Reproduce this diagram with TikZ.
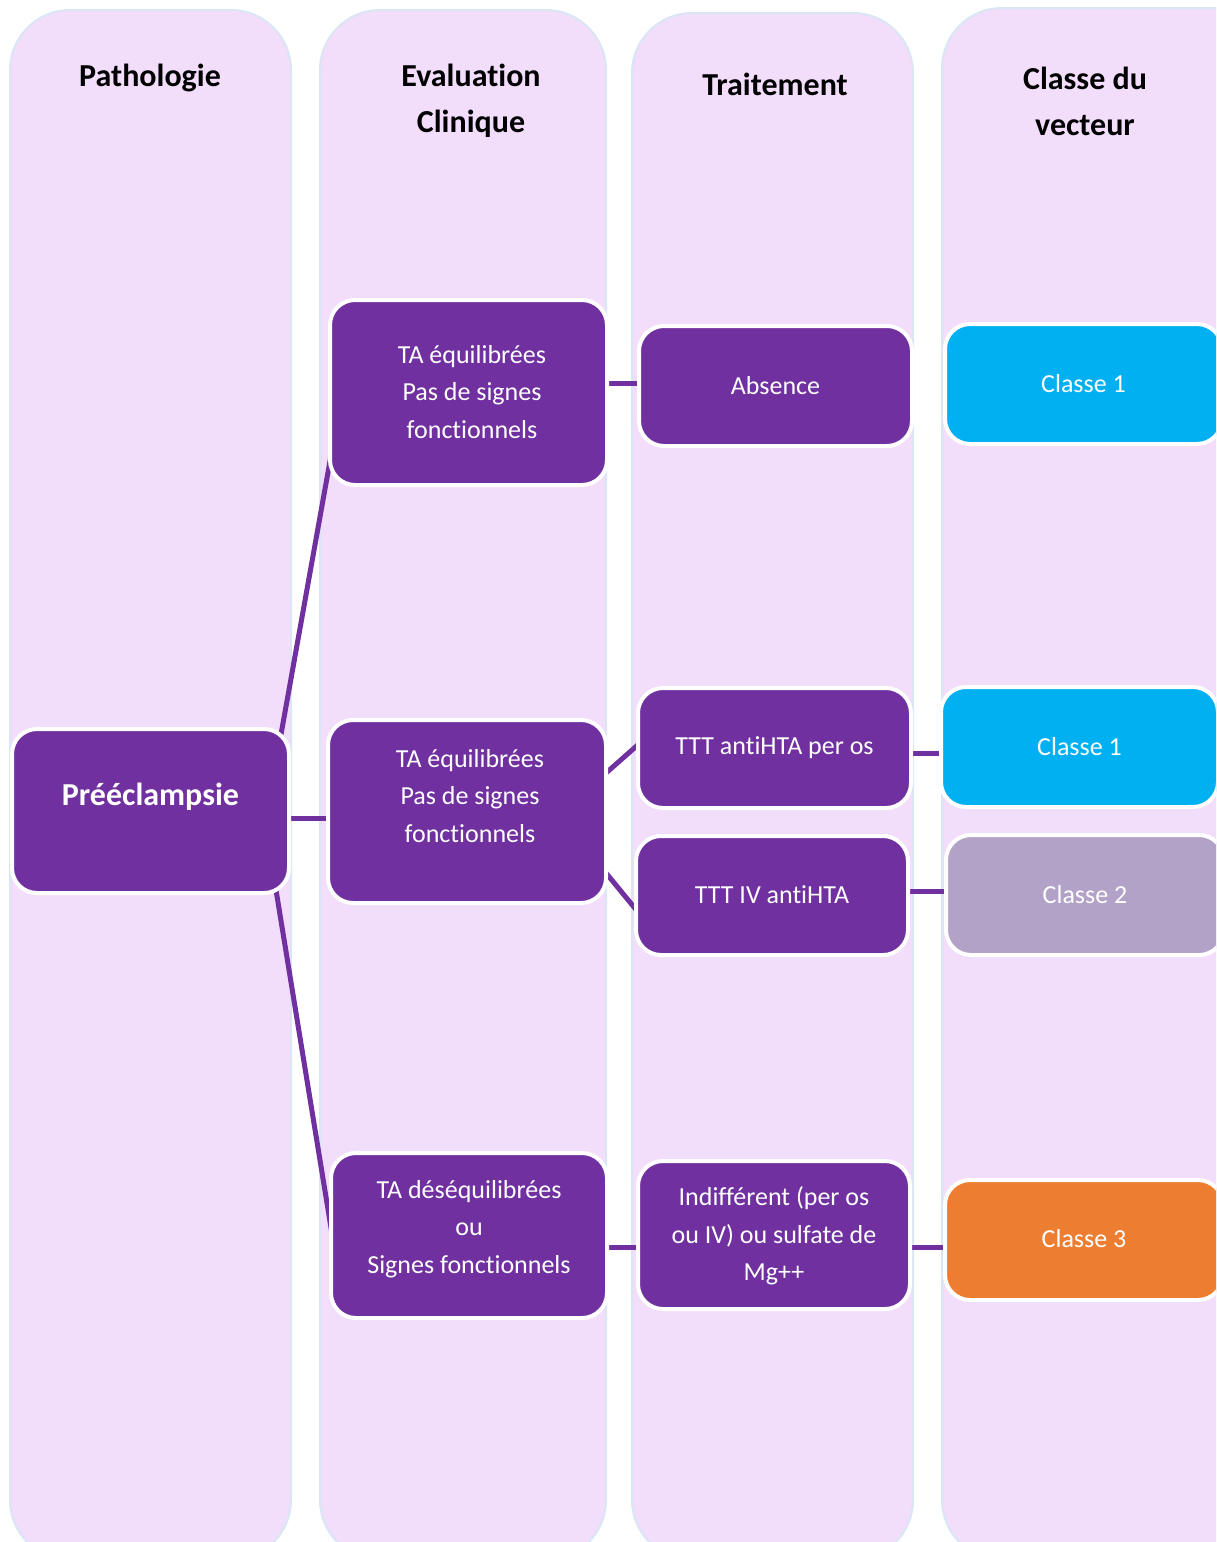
\documentclass[tikz,border=0pt]{standalone}
\usepackage{fontspec}
\setmainfont{Carlito}[Ligatures=NoCommon]
\usetikzlibrary{calc}
\definecolor{colfill}{HTML}{F2DDFB}
\definecolor{colline}{HTML}{DAE6F4}
\definecolor{purp}{HTML}{7030A0}
\definecolor{cyanb}{HTML}{00B0F0}
\definecolor{lilac}{HTML}{B3A2C7}
\definecolor{orng}{HTML}{ED7D31}
\pgfdeclarelayer{cols}
\pgfdeclarelayer{links}
\pgfsetlayers{cols,links,main}
\begin{document}
\begin{tikzpicture}[x=1pt,y=-1pt,
  column/.style={draw=colline,line width=2pt,fill=colfill,rounded corners=60pt},
  box/.style={draw=white,line width=4pt,fill=purp,rounded corners=25pt,inner sep=0pt,outer sep=0pt},
  hdr/.style={font=\fontsize{32}{46}\selectfont\bfseries,align=center,inner sep=0pt},
  btxt/.style={font=\fontsize{26}{37.5}\selectfont,text=white,align=center,inner sep=0pt},
  btitle/.style={font=\fontsize{32}{46}\selectfont\bfseries,text=white,align=center,inner sep=0pt},
  conn/.style={draw=purp,line width=5pt}]
\useasboundingbox (0,0) rectangle (1216,1542);
\begin{pgfonlayer}{cols}
\begin{scope}
\clip (0,0) rectangle (1216,1542);
\draw[column] (10,10) rectangle (291,1560);
\draw[column] (320,10) rectangle (606,1560);
\draw[column] (632,13) rectangle (913,1560);
\draw[column] (942,8) rectangle (1290,1560);
\end{scope}
\end{pgfonlayer}
\clip (0,0) rectangle (1216,1542);
% headers
\node[hdr] (h1) at (150,78) {Pathologie};
\node[hdr] (h2) at (471,101) {Evaluation\\Clinique};
\node[hdr] (h3) at (775,84) {Traitement};
\node[hdr] (h4) at (1085,101) {Classe du\\vecteur};
% boxes
\node[box,minimum width=277pt,minimum height=164pt] (pre) at (150.5,811) {};
\node[btitle] (pret) at (150.5,797) {Prééclampsie};
\node[box,minimum width=277pt,minimum height=185pt] (ev1) at (468.5,392.5) {};
\node[btxt] (ev1t) at (472,392) {TA équilibrées\\Pas de signes\\fonctionnels};
\node[box,minimum width=278pt,minimum height=183pt] (ev2) at (467,811.5) {};
\node[btxt] (ev2t) at (470,796) {TA équilibrées\\Pas de signes\\fonctionnels};
\node[box,minimum width=276pt,minimum height=165pt] (ev3) at (469,1235.5) {};
\node[btxt] (ev3t) at (469,1229) {TA déséquilibrées\\ou\\Signes fonctionnels};
\node[box,minimum width=273pt,minimum height=120pt] (abs) at (775.5,386) {};
\node[btxt] (abst) at (775.5,386) {Absence};
\node[box,minimum width=273pt,minimum height=120pt] (po) at (774.5,748) {};
\node[btxt] (pot) at (774.5,748) {TTT antiHTA per os};
\node[box,minimum width=272pt,minimum height=119pt] (iv) at (772,895.5) {};
\node[btxt] (ivt) at (772,895) {TTT IV antiHTA};
\node[box,minimum width=272pt,minimum height=148pt] (ind) at (774,1235) {};
\node[btxt] (indt) at (774,1236) {Indifférent (per os\\ou IV) ou sulfate de\\Mg++};
\node[box,fill=cyanb,minimum width=277pt,minimum height=120pt] (c1a) at (1083.5,384) {};
\node[btxt] (c1at) at (1083.5,384) {Classe 1};
\node[box,fill=cyanb,minimum width=277pt,minimum height=120pt] (c1b) at (1079.5,747) {};
\node[btxt] (c1bt) at (1079.5,747) {Classe 1};
\node[box,fill=lilac,minimum width=278pt,minimum height=120pt] (c2) at (1085,895) {};
\node[btxt] (c2t) at (1085,895) {Classe 2};
\node[box,fill=orng,minimum width=278pt,minimum height=120pt] (c3) at (1084,1240) {};
\node[btxt] (c3t) at (1084,1239) {Classe 3};
% connectors
\begin{pgfonlayer}{links}
\coordinate (a1) at ($(pre.north east)+(-9,11)$);
\coordinate (b1) at ($(ev1.south west)+(2,-35)$);
\draw[conn] (a1) -- (b1);
\coordinate (a2) at ($(pre.east)+(0,7)$);
\draw[conn] (a2) -- (a2 -| ev2.west);
\coordinate (a3) at ($(pre.south east)+(-13,-3)$);
\coordinate (b3) at ($(ev3.west)+(2,4.5)$);
\draw[conn] (a3) -- (b3);
\coordinate (a4) at ($(ev1.east)+(0,-9)$);
\draw[conn] (a4) -- (a4 -| abs.west);
\coordinate (a5) at ($(ev2.east)+(0,-38.5)$);
\coordinate (b5) at ($(po.west)+(2,-5)$);
\draw[conn] (a5) -- (b5);
\coordinate (a6) at ($(ev2.east)+(0,61.5)$);
\coordinate (b6) at ($(iv.west)+(2,16.5)$);
\draw[conn] (a6) -- (b6);
\coordinate (a7) at ($(ev3.east)+(0,11.5)$);
\draw[conn] (a7) -- (a7 -| ind.west);
\coordinate (a8) at ($(po.east)+(0,5)$);
\draw[conn] (a8) -- (a8 -| c1b.west);
\coordinate (a9) at ($(iv.east)+(0,-4.5)$);
\draw[conn] (a9) -- (a9 -| c2.west);
\coordinate (a10) at ($(ind.east)+(0,12)$);
\draw[conn] (a10) -- (a10 -| c3.west);
\end{pgfonlayer}
\end{tikzpicture}
\end{document}
